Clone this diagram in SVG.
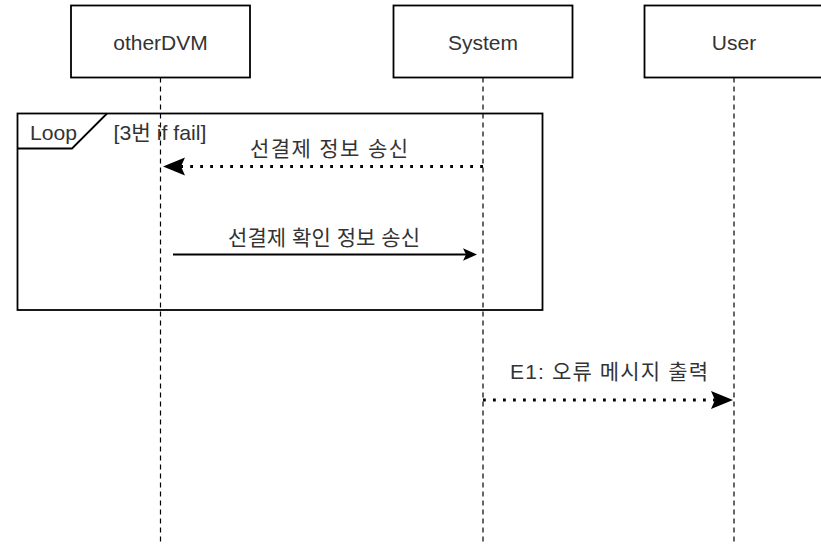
<svg xmlns="http://www.w3.org/2000/svg" width="821" height="544" viewBox="0 0 821 544">
<style>
.box{fill:#fff;stroke:#000;stroke-width:1.8}
.life{fill:none;stroke:#000;stroke-width:1.2;stroke-dasharray:5 4}
.lbl{font-family:"Liberation Sans","Noto Sans CJK KR",sans-serif;font-size:21px;fill:#333;text-anchor:middle}
.msg{font-family:"Liberation Sans","Noto Sans CJK KR",sans-serif;font-size:21px;fill:#333;text-anchor:middle}
.dot{fill:none;stroke:#000;stroke-width:2.8;stroke-dasharray:2.8 7.2}
.solid{fill:none;stroke:#000;stroke-width:1.8}
</style>
<defs>
<marker id="bigHead" markerUnits="userSpaceOnUse" markerWidth="23" markerHeight="19" refX="4" refY="9" orient="auto" overflow="visible">
<path d="M22,9 L0,0 L4,9 L0,18 Z" fill="#000"/>
</marker>
<marker id="smallHead" markerUnits="userSpaceOnUse" markerWidth="15" markerHeight="13" refX="3" refY="6.3" orient="auto" overflow="visible">
<path d="M14,6.3 L0,0 L3,6.3 L0,12.6 Z" fill="#000"/>
</marker>
</defs>
<rect width="821" height="544" fill="#fff"/>
<g id="otherDVM">
<line class="life" x1="160.5" y1="77.5" x2="160.5" y2="544"/>
<rect class="box" x="71" y="5.5" width="179" height="72"/>
<text class="lbl" x="160.5" y="50">otherDVM</text>
</g>
<g id="System">
<line class="life" x1="483" y1="77.5" x2="483" y2="544"/>
<rect class="box" x="393.5" y="5.5" width="179" height="72"/>
<text class="lbl" x="483" y="50">System</text>
</g>
<g id="User">
<line class="life" x1="734" y1="77.5" x2="734" y2="544"/>
<rect class="box" x="644.5" y="5.5" width="180" height="72"/>
<text class="lbl" x="734" y="50">User</text>
</g>
<g id="loopFrame">
<rect x="17.5" y="113.5" width="525" height="196.5" fill="none" stroke="#000" stroke-width="1.8"/>
<path d="M17.5,148.5 H72 L107,113.5" fill="none" stroke="#000" stroke-width="1.8"/>
<text class="lbl" x="53.5" y="139.5" textLength="47" lengthAdjust="spacingAndGlyphs">Loop</text>
<text class="lbl" x="160" y="139.5" textLength="93" lengthAdjust="spacingAndGlyphs">[3번 if fail]</text>
</g>
<g id="connectors">
<line class="dot" x1="483" y1="166.5" x2="181" y2="166.5" marker-end="url(#bigHead)"/>
<text class="msg" x="329" y="156" textLength="158" lengthAdjust="spacing">선결제 정보 송신</text>
<line class="solid" x1="173" y1="254.5" x2="466" y2="254.5" marker-end="url(#smallHead)"/>
<text class="msg" x="324" y="244.5" textLength="192" lengthAdjust="spacing">선결제 확인 정보 송신</text>
<line class="dot" x1="483" y1="400" x2="715" y2="400" marker-end="url(#bigHead)"/>
<text class="msg" x="609" y="379" textLength="198" lengthAdjust="spacing">E1: 오류 메시지 출력</text>
</g>
</svg>
